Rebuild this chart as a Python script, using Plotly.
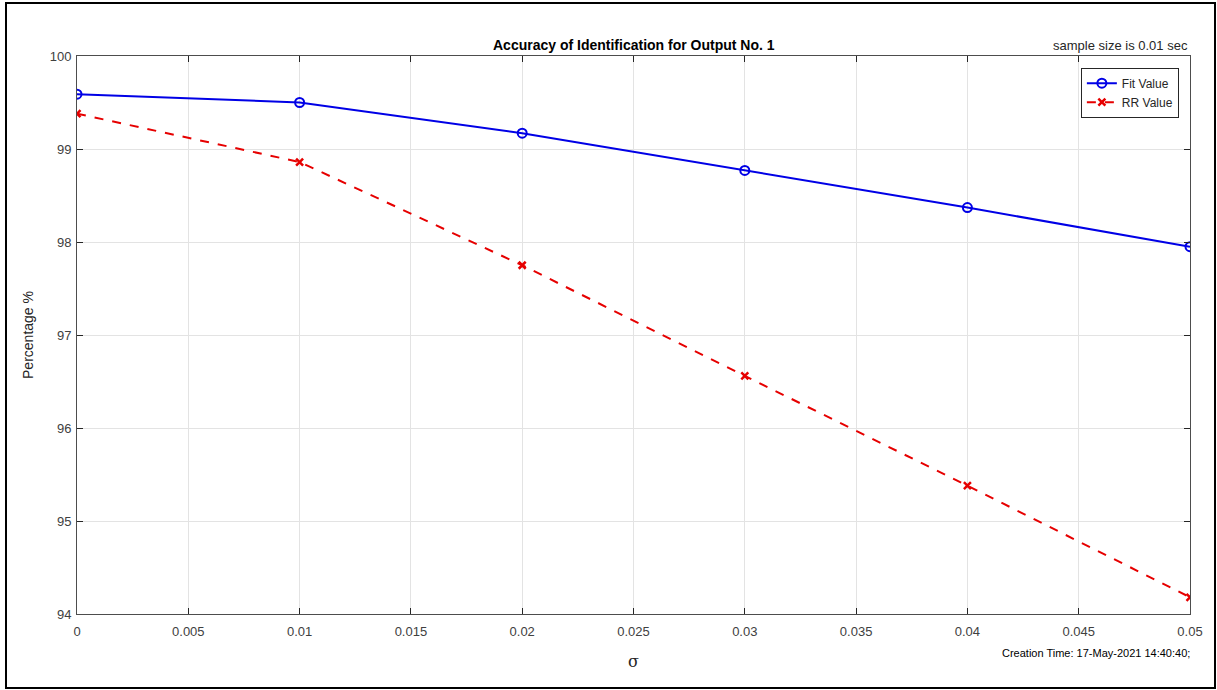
import plotly.graph_objects as go

sigma = [0, 0.01, 0.02, 0.03, 0.04, 0.05]
fit_value = [99.59, 99.50, 99.17, 98.77, 98.37, 97.95]
rr_value = [99.38, 98.86, 97.75, 96.56, 95.38, 94.18]
x_ticks = [0, 0.005, 0.01, 0.015, 0.02, 0.025, 0.03, 0.035, 0.04, 0.045, 0.05]
x_tick_text = ["0", "0.005", "0.01", "0.015", "0.02", "0.025", "0.03", "0.035", "0.04", "0.045", "0.05"]
y_ticks = [94, 95, 96, 97, 98, 99, 100]

font = "Liberation Sans, Arial, sans-serif"
txt = "#262626"

fig = go.Figure()
fig.add_trace(go.Scatter(
    x=sigma, y=fit_value, name="Fit Value", mode="lines+markers",
    line=dict(color="#0000e6", width=2),
    marker=dict(symbol="circle-open", size=9, color="#0000e6", line=dict(width=2)),
))
fig.add_trace(go.Scatter(
    x=sigma, y=rr_value, name="RR Value", mode="lines+markers",
    line=dict(color="#e60000", width=2, dash="dash"),
    marker=dict(symbol="x-thin-open", size=7, color="#e60000", line=dict(width=2.5, color="#e60000")),
))

axis_common = dict(
    showgrid=True, gridcolor="#e3e3e3", gridwidth=1,
    showline=True, linecolor="#4d4d4d", linewidth=1, mirror="ticks",
    ticks="inside", ticklen=6, tickcolor="#262626",
    tickfont=dict(family=font, size=13, color="#404040"), zeroline=False,
)
fig.update_xaxes(range=[0, 0.05], tickvals=x_ticks, ticktext=x_tick_text,
                 ticklabelstandoff=5, **axis_common)
fig.update_yaxes(range=[94, 100], tickvals=y_ticks, ticktext=[str(v) for v in y_ticks],
                 ticklabelstandoff=2,
                 title=dict(text="Percentage %", font=dict(family=font, size=14, color=txt), standoff=12),
                 **axis_common)

fig.update_layout(
    width=1217, height=690,
    margin=dict(l=77, r=27, t=56, b=76),
    paper_bgcolor="white", plot_bgcolor="white",
    showlegend=True,
    legend=dict(x=0.99, y=0.979, xanchor="right", yanchor="top",
                bgcolor="white", bordercolor="#262626", borderwidth=1,
                font=dict(family=font, size=12, color=txt), tracegroupgap=0),
    annotations=[
        dict(text="<b>Accuracy of Identification for Output No. 1</b>", x=0.5, y=1.0,
             xref="paper", yref="paper", xanchor="center", yanchor="bottom", yshift=1,
             showarrow=False, font=dict(family=font, size=14, color="#000000")),
        dict(text="sample size is 0.01 sec", x=1.0, y=1.0, xref="paper", yref="paper",
             xanchor="right", yanchor="bottom", yshift=1, showarrow=False,
             font=dict(family=font, size=13, color=txt)),
        dict(text="σ", x=0.5, y=0, xref="paper", yref="paper", xanchor="center", yanchor="top",
             yshift=-36, showarrow=False,
             font=dict(family="DejaVu Serif, serif", size=16, color=txt)),
        dict(text="Creation Time: 17-May-2021 14:40:40;", x=1.0, y=0, xref="paper", yref="paper",
             xanchor="right", yanchor="top", yshift=-31, xshift=2, showarrow=False,
             font=dict(family=font, size=11, color="#000000")),
    ],
    shapes=[dict(type="rect", xref="paper", yref="paper",
                 x0=-71/1113, x1=1 + 25/1113, y0=-74/558, y1=1 + 53/558,
                 line=dict(color="black", width=2))],
)

fig.write_html("out.html", config={"displayModeBar": False},
               post_script="document.body.style.margin='0';")
